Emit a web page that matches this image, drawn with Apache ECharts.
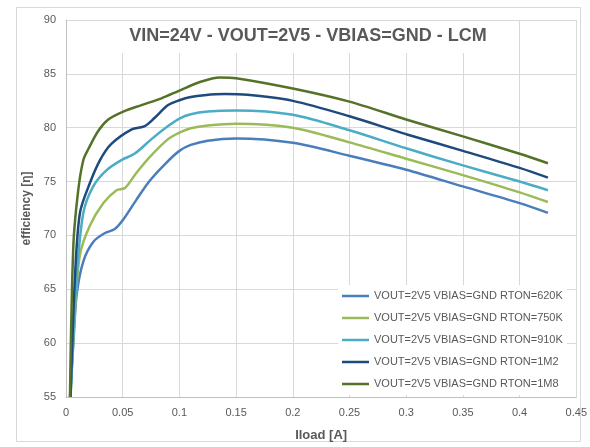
<!DOCTYPE html>
<html>
<head>
<meta charset="utf-8">
<script src="https://cdn.jsdelivr.net/npm/echarts@6/dist/echarts.min.js"></script>
<style>
html,body{margin:0;padding:0;background:#fff;}
#c{width:590px;height:447px;}
</style>
</head>
<body>
<div id="c"></div>
<script>
var chartTitle = 'VIN=24V - VOUT=2V5 - VBIAS=GND - LCM';
var xName = 'Iload [A]';
var yName = 'efficiency [\u03b7]';
var seriesNames = [
  'VOUT=2V5 VBIAS=GND RTON=620K',
  'VOUT=2V5 VBIAS=GND RTON=750K',
  'VOUT=2V5 VBIAS=GND RTON=910K',
  'VOUT=2V5 VBIAS=GND RTON=1M2',
  'VOUT=2V5 VBIAS=GND RTON=1M8'
];
var seriesColors = ['#4a7ebb', '#9bbb59', '#4bacc6', '#1f4a7d', '#557229'];

var load620 = [0.0035, 0.0065, 0.0094, 0.0153, 0.024, 0.034, 0.043, 0.050, 0.062, 0.074, 0.088, 0.100, 0.110, 0.125, 0.150, 0.200, 0.250, 0.300, 0.350, 0.400, 0.425];
var eff620  = [55.0, 60.0, 64.5, 67.6, 69.4, 70.2, 70.6, 71.4, 73.3, 75.1, 76.7, 77.85, 78.4, 78.8, 79.0, 78.6, 77.4, 76.1, 74.55, 73.0, 72.1];

var load750 = [0.004, 0.0079, 0.0123, 0.021, 0.033, 0.0446, 0.052, 0.062, 0.074, 0.090, 0.100, 0.110, 0.125, 0.150, 0.200, 0.250, 0.300, 0.350, 0.400, 0.425];
var eff750  = [55.0, 63.0, 68.2, 70.9, 73.0, 74.2, 74.4, 75.8, 77.3, 78.94, 79.55, 79.95, 80.2, 80.36, 80.0, 78.64, 77.12, 75.6, 74.0, 73.1];

var load910 = [0.004, 0.0094, 0.0153, 0.024, 0.0358, 0.049, 0.0607, 0.0754, 0.090, 0.100, 0.110, 0.125, 0.150, 0.200, 0.250, 0.300, 0.350, 0.400, 0.425];
var eff910  = [55.0, 66.1, 72.1, 74.55, 76.06, 77.0, 77.6, 78.94, 80.15, 80.85, 81.25, 81.5, 81.6, 81.2, 79.76, 78.09, 76.5, 75.0, 74.2];

var load1M2 = [0.004, 0.0079, 0.0123, 0.021, 0.030, 0.040, 0.058, 0.0695, 0.078, 0.090, 0.100, 0.110, 0.122, 0.140, 0.160, 0.200, 0.250, 0.300, 0.350, 0.400, 0.425];
var eff1M2  = [55.0, 66.1, 72.1, 74.85, 77.0, 78.5, 79.85, 80.15, 80.9, 82.1, 82.55, 82.85, 83.02, 83.12, 83.05, 82.49, 81.06, 79.4, 77.85, 76.27, 75.36];

var load1M8 = [0.0035, 0.0065, 0.0108, 0.0153, 0.0196, 0.0284, 0.0373, 0.0505, 0.0666, 0.0842, 0.100, 0.118, 0.1356, 0.150, 0.200, 0.250, 0.300, 0.350, 0.400, 0.425];
var eff1M8  = [55.0, 69.1, 74.2, 77.0, 78.0, 79.7, 80.76, 81.5, 82.1, 82.73, 83.45, 84.24, 84.67, 84.6, 83.64, 82.42, 80.76, 79.2, 77.58, 76.7];

var loads = [load620, load750, load910, load1M2, load1M8];
var effs = [eff620, eff750, eff910, eff1M2, eff1M8];

function pairs(xs, ys) {
  var out = [];
  for (var i = 0; i < xs.length; i++) out.push([xs[i], ys[i]]);
  return out;
}

var FONT = 'Liberation Sans, Arial, sans-serif';
var series = seriesNames.map(function (n, i) {
  return {
    name: n,
    type: 'line',
    data: pairs(loads[i], effs[i]),
    showSymbol: false,
    smooth: 0.3,
    clip: true,
    lineStyle: { width: 2.5, color: seriesColors[i] },
    itemStyle: { color: seriesColors[i] }
  };
});

var chart = echarts.init(document.getElementById('c'), null, { renderer: 'canvas' });
chart.setOption({
  animation: false,
  backgroundColor: '#fff',
  textStyle: { fontFamily: FONT },
  grid: { left: 66, top: 20, width: 511, height: 385, containLabel: false },
  xAxis: {
    type: 'value', min: 0, max: 0.45, interval: 0.05,
    name: xName, nameLocation: 'middle', nameGap: 32,
    nameTextStyle: { fontFamily: FONT, fontSize: 13, fontWeight: 'bold', color: '#595959' },
    axisLine: { show: true, lineStyle: { color: '#bfbfbf', width: 1 } },
    axisTick: { show: false },
    axisLabel: { fontSize: 11, color: '#595959', margin: 10,
      formatter: function (v) { return String(+v.toFixed(2)); } },
    splitLine: { show: true, lineStyle: { color: '#d9d9d9', width: 1 } }
  },
  yAxis: {
    type: 'value', min: 55, max: 90, interval: 5,
    name: yName, nameLocation: 'middle', nameGap: 27, nameRotate: 90,
    nameTextStyle: { fontFamily: FONT, fontSize: 12, fontWeight: 'bold', color: '#595959' },
    axisLine: { show: true, lineStyle: { color: '#bfbfbf', width: 1 } },
    axisTick: { show: false },
    axisLabel: { fontSize: 11, color: '#595959', margin: 10 },
    splitLine: { show: true, lineStyle: { color: '#d9d9d9', width: 1 } }
  },
  legend: {
    orient: 'vertical',
    left: 338, top: 285,
    width: 239,
    padding: [4, 4, 4, 4],
    backgroundColor: '#fff',
    icon: 'rect',
    itemWidth: 27, itemHeight: 2.5,
    itemGap: 8,
    textStyle: { fontSize: 11, color: '#595959', lineHeight: 14, fontFamily: FONT },
    data: seriesNames
  },
  graphic: [
    { type: 'rect', shape: { x: 16.5, y: 7.5, width: 564, height: 434 },
      style: { fill: null, stroke: '#d9d9d9', lineWidth: 1 }, z: 0, silent: true },
    { type: 'rect', shape: { x: 122, y: 21, width: 372, height: 32 },
      style: { fill: '#fff' }, z: 50, silent: true },
    { type: 'text', x: 308, y: 36, z: 51,
      style: { text: chartTitle, font: 'bold 18px ' + FONT, fill: '#595959',
        textAlign: 'center', textVerticalAlign: 'middle' } }
  ],
  series: series
});
</script>
</body>
</html>
